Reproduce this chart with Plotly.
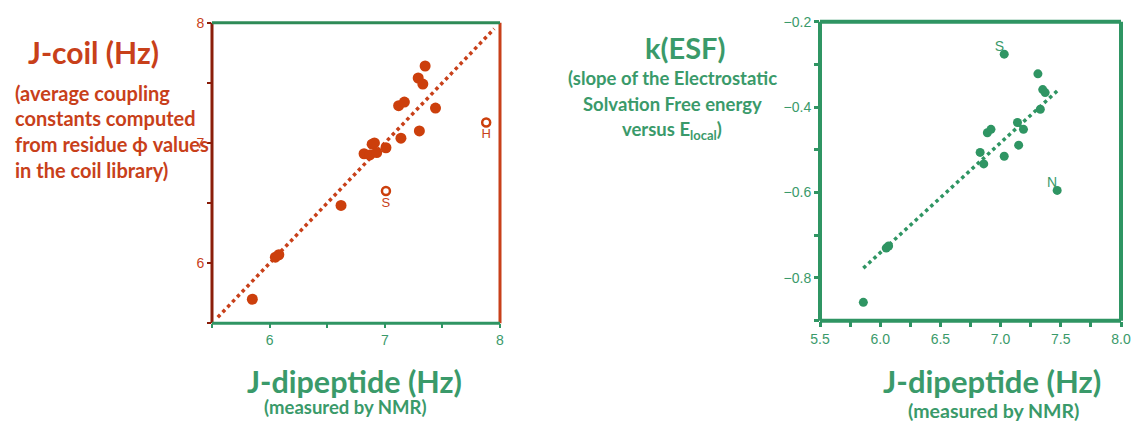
import plotly.graph_objects as go

W, H = 1137, 427

# ---- data: left panel (J-coil vs J-dipeptide) ----
left_x = [5.85, 6.05, 6.08, 6.62, 6.82, 6.87, 6.89, 6.91, 6.93, 7.01, 7.14, 7.12, 7.17, 7.30, 7.29, 7.33, 7.35, 7.44]
left_y = [5.70, 6.05, 6.07, 6.48, 6.91, 6.90, 6.99, 7.00, 6.92, 6.96, 7.04, 7.31, 7.34, 7.10, 7.54, 7.49, 7.64, 7.29]
left_open_x = [7.01, 7.88]
left_open_y = [6.60, 7.17]
left_open_labels = ["S", "H"]
left_fit_x = [5.55, 7.95]
left_fit_y = [5.55, 7.95]

# ---- data: right panel (k(ESF) vs J-dipeptide) ----
right_x = [5.86, 6.05, 6.07, 6.83, 6.86, 6.89, 6.92, 7.03, 7.03, 7.14, 7.15, 7.19, 7.31, 7.33, 7.35, 7.37, 7.47]
right_y = [-0.857, -0.730, -0.725, -0.506, -0.533, -0.460, -0.452, -0.276, -0.515, -0.436, -0.489, -0.452, -0.322, -0.405, -0.359, -0.366, -0.595]
right_label_x = [7.03, 7.47]
right_label_y = [-0.276, -0.595]
right_labels = ["S", "N"]
right_fit_x = [5.86, 7.49]
right_fit_y = [-0.777, -0.357]

RED = "#C8401A"
DARKRED = "#8B1E0A"
GREEN = "#2F9563"
GREEN_T = "#3A9A6A"

fig = go.Figure()

fig.add_trace(go.Scatter(x=left_fit_x, y=left_fit_y, mode="lines",
                         line=dict(color=RED, width=3.5, dash="dot"),
                         xaxis="x", yaxis="y", showlegend=False))
fig.add_trace(go.Scatter(x=left_x, y=left_y, mode="markers",
                         marker=dict(color="#CC3F0C", size=11),
                         xaxis="x", yaxis="y", showlegend=False))
fig.add_trace(go.Scatter(x=left_open_x, y=left_open_y, mode="markers+text",
                         marker=dict(color="white", size=8, line=dict(color="#CC3F0C", width=2.5)),
                         text=left_open_labels, textposition="bottom center",
                         textfont=dict(family="Liberation Sans, Arial", size=13, color=RED),
                         xaxis="x", yaxis="y", showlegend=False))

fig.add_trace(go.Scatter(x=right_fit_x, y=right_fit_y, mode="lines",
                         line=dict(color=GREEN, width=3.5, dash="dot"),
                         xaxis="x2", yaxis="y2", showlegend=False))
fig.add_trace(go.Scatter(x=right_x, y=right_y, mode="markers",
                         marker=dict(color=GREEN, size=9),
                         xaxis="x2", yaxis="y2", showlegend=False))
fig.add_trace(go.Scatter(x=right_label_x, y=right_label_y, mode="text",
                         text=right_labels, textposition="top left",
                         textfont=dict(family="Liberation Sans, Arial", size=14, color=GREEN_T),
                         xaxis="x2", yaxis="y2", showlegend=False))

tickfont_red = dict(family="Liberation Sans, Arial", size=14, color=RED)
tickfont_green = dict(family="Liberation Sans, Arial", size=14, color=GREEN_T)

fig.update_layout(
    width=W, height=H,
    margin=dict(l=0, r=0, t=0, b=0, autoexpand=False),
    paper_bgcolor="white", plot_bgcolor="white",
    xaxis=dict(domain=[212 / W, 500 / W], range=[5.5, 8], anchor="y", automargin=False,
               tick0=6, dtick=1, ticks="outside", ticklen=4, tickwidth=2, tickcolor=GREEN,
               minor=dict(tick0=5.5, dtick=0.5, ticks="outside", ticklen=4, tickwidth=2, tickcolor=GREEN),
               showgrid=False, zeroline=False, showline=False, tickfont=tickfont_green),
    yaxis=dict(domain=[1 - 323.3 / H, 1 - 22.7 / H], range=[5.5, 8], anchor="x", automargin=False,
               tick0=6, dtick=1, ticks="outside", ticklen=4, tickwidth=2, tickcolor=DARKRED,
               minor=dict(tick0=5.5, dtick=0.5, ticks="outside", ticklen=4, tickwidth=2, tickcolor=DARKRED),
               showgrid=False, zeroline=False, showline=False, tickfont=tickfont_red),
    xaxis2=dict(domain=[820 / W, 1121 / W], range=[5.5, 8.0], anchor="y2", automargin=False,
                tick0=5.5, dtick=0.5, tickformat=".1f", ticks="outside", ticklen=5, tickwidth=3, tickcolor=GREEN,
                minor=dict(tick0=5.5, dtick=0.25, ticks="outside", ticklen=5, tickwidth=3, tickcolor=GREEN),
                showgrid=False, zeroline=False, showline=False, tickfont=tickfont_green),
    yaxis2=dict(domain=[1 - 320.7 / H, 1 - 21.7 / H], range=[-0.9, -0.2], anchor="x2", automargin=False,
                tick0=-0.2, dtick=0.2, tickformat=".1f", ticks="outside", ticklen=5, tickwidth=3, tickcolor=GREEN,
                minor=dict(tick0=-0.2, dtick=0.1, ticks="outside", ticklen=5, tickwidth=3, tickcolor=GREEN),
                showgrid=False, zeroline=False, showline=False, tickfont=tickfont_green),
)

# spines
def spine(xr, yr, x0, y0, x1, y1, color, width):
    fig.add_shape(type="line", xref=xr, yref=yr, x0=x0, y0=y0, x1=x1, y1=y1,
                  line=dict(color=color, width=width), layer="above")

spine("x domain", "y domain", 0, 0, 0, 1, DARKRED, 3)
spine("x domain", "y domain", 1, 0, 1, 1, RED, 3)
spine("x domain", "y domain", 0, 1, 1, 1, "#2E8B57", 3)
spine("x domain", "y domain", 0, 0, 1, 0, GREEN, 3)
for args in [(0, 0, 0, 1), (1, 0, 1, 1), (0, 1, 1, 1), (0, 0, 1, 0)]:
    spine("x2 domain", "y2 domain", *args, GREEN, 4)

FONT = "Lato, Open Sans, sans-serif"

def txt(x, y, s, size, color, anchor="center", bold=True):
    fig.add_annotation(x=x / W, y=1 - y / H, xref="paper", yref="paper",
                       text=(f"<b>{s}</b>" if bold else s), showarrow=False,
                       xanchor=anchor, yanchor="middle",
                       font=dict(family=FONT, size=size, color=color))

# left titles
txt(93, 52, "J-coil (Hz)", 30, RED)
txt(13, 93, "(average coupling", 20, RED, "left")
txt(13, 118, "constants computed", 20, RED, "left")
txt(13, 144, "from residue ϕ values", 20, RED, "left")
txt(13, 170, "in the coil library)", 20, RED, "left")
txt(354, 381, "J-dipeptide (Hz)", 30.5, GREEN_T)
txt(345, 407, "(measured by NMR)", 18.5, GREEN_T)

# right titles
txt(685, 47, "k(ESF)", 29, GREEN_T)
txt(672, 78, "(slope of the Electrostatic", 18.5, GREEN_T)
txt(672, 104, "Solvation Free energy", 18.5, GREEN_T)
txt(672, 130, "versus E<sub>local</sub>)", 18.5, GREEN_T)
txt(992, 381, "J-dipeptide (Hz)", 31, GREEN_T)
txt(993, 410, "(measured by NMR)", 19.5, GREEN_T)

fig.write_html("out.html", config={"displayModeBar": False},
               post_script="document.body.style.margin='0';")
